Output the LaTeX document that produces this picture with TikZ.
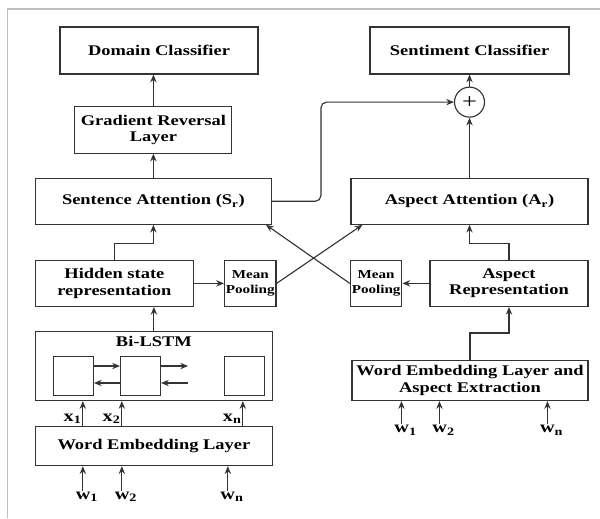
\documentclass[tikz,border=0pt]{standalone}
\usepackage{fontspec}
\setmainfont{Liberation Serif}[FakeStretch=1.25]
\usepackage{tikz}
\usetikzlibrary{positioning,arrows.meta}
\usepackage{xcolor}
\definecolor{linegray}{HTML}{333333}
\definecolor{framegray}{HTML}{BEBEBE}

\begin{document}
\begin{tikzpicture}[
  box/.style={draw=linegray, line width=0.8pt, align=center, inner sep=1pt, font=\fontsize{10.5}{11.5}\selectfont\bfseries},
  pool/.style={box, minimum width=1.2cm, minimum height=1.15cm, font=\fontsize{8.6}{10.5}\selectfont\bfseries},
  cell/.style={draw=linegray, line width=0.8pt, minimum width=1cm, minimum height=0.975cm},
  lbl/.style={inner sep=0.5pt, font=\fontsize{11.5}{12}\selectfont\bfseries},
  arr/.style={-{Stealth[length=5.5pt,width=4.5pt]}, line width=0.8pt, draw=linegray}
]
\useasboundingbox (0,0) rectangle (15,-12.95);
\draw[framegray, line width=1.2pt] (0.19,-12.95) -- (0.19,-0.225) -- (15,-0.225);

% left branch
\node[box, minimum width=4.95cm, minimum height=1.175cm] (dc) at (3.975,-1.2625) {Domain Classifier};
\node[box, minimum width=3.925cm, minimum height=1.175cm, below=0.775cm of dc, xshift=-0.14cm] (grl) {Gradient Reversal\\Layer};
\node[box, minimum width=5.9cm, minimum height=1.15cm, below=0.6cm of grl] (sa) {Sentence Attention (S\textsubscript{r})};
\node[box, minimum width=3.95cm, minimum height=1.15cm, below right=0.875cm and 0cm of sa.south west] (hsr) {Hidden state\\representation};
\node[pool, right=0.75cm of hsr] (mp1) {Mean\\Pooling};
\node[box, minimum width=5.925cm, minimum height=1.725cm, below right=0.6cm and 0cm of hsr.south west,
  label={[lbl, font=\fontsize{10.5}{11.5}\selectfont\bfseries, anchor=north, yshift=-3pt]north:Bi-LSTM}] (bilstm) {};
\node[cell, above right=0.125cm and 0.45cm of bilstm.south west] (cell1) {};
\node[cell, right=0.65cm of cell1] (cell2) {};
\node[cell, right=1.575cm of cell2] (cell3) {};
\node[box, minimum width=5.925cm, minimum height=0.975cm, below right=0.625cm and 0cm of bilstm.south west] (wel) {Word Embedding Layer};

% right branch
\node[box, minimum width=4.975cm, minimum height=1.175cm] (sc) at (11.7375,-1.2625) {Sentiment Classifier};
\node[draw=linegray, line width=0.8pt, circle, minimum size=0.75cm, inner sep=0pt, below=0.3cm of sc] (plus) {\fontsize{15}{15}\selectfont +};
\node[box, minimum width=5.925cm, minimum height=1.15cm, below=1.5cm of plus] (aa) {Aspect Attention (A\textsubscript{r})};
\node[box, minimum width=3.95cm, minimum height=1.15cm, below left=0.875cm and 0cm of aa.south east] (ar) {Aspect\\Representation};
\node[pool, minimum width=1.25cm, left=0.675cm of ar] (mp2) {Mean\\Pooling};
\node[box, minimum width=5.9cm, minimum height=1.0cm, below left=1.325cm and 0cm of ar.south east] (wea) {Word Embedding Layer and\\Aspect Extraction};

% inputs
\coordinate (w1) at ([xshift=1.2cm, yshift=-0.62cm]wel.south west);
\coordinate (w2) at ([xshift=2.175cm, yshift=-0.62cm]wel.south west);
\coordinate (wn) at ([xshift=4.825cm, yshift=-0.62cm]wel.south west);
\node[lbl, anchor=north, xshift=3pt] (lw1) at (w1) {w\textsubscript{1}};
\node[lbl, anchor=north, xshift=3pt] (lw2) at (w2) {w\textsubscript{2}};
\node[lbl, anchor=north, xshift=3pt] (lwn) at (wn) {w\textsubscript{n}};
\coordinate (v1) at ([xshift=1.25cm, yshift=-0.575cm]wea.south west);
\coordinate (v2) at ([xshift=2.2cm, yshift=-0.575cm]wea.south west);
\coordinate (vn) at ([xshift=4.9cm, yshift=-0.575cm]wea.south west);
\node[lbl, anchor=north, xshift=3pt] (lv1) at (v1) {w\textsubscript{1}};
\node[lbl, anchor=north, xshift=3pt] (lv2) at (v2) {w\textsubscript{2}};
\node[lbl, anchor=north, xshift=3pt] (lvn) at (vn) {w\textsubscript{n}};
\coordinate (x1) at ([xshift=1.2cm]wel.north west);
\coordinate (x2) at ([xshift=2.175cm]wel.north west);
\coordinate (xn) at ([xshift=5.2cm]wel.north west);
\coordinate (fw) at ([xshift=0.675cm]cell2.east);

\draw[arr] (w1) -- (w1 |- wel.south);
\draw[arr] (w2) -- (w2 |- wel.south);
\draw[arr] (wn) -- (wn |- wel.south);
\draw[arr] (v1) -- (v1 |- wea.south);
\draw[arr] (v2) -- (v2 |- wea.south);
\draw[arr] (vn) -- (vn |- wea.south);
\draw[arr] (x1) -- node[lbl, left, pos=0.3] (lx1) {x\textsubscript{1}} (x1 |- bilstm.south);
\draw[arr] (x2) -- node[lbl, left, pos=0.3] (lx2) {x\textsubscript{2}} (x2 |- bilstm.south);
\draw[arr] (xn) -- node[lbl, left, pos=0.3] (lxn) {x\textsubscript{n}} (xn |- bilstm.south);

% lstm cells
\draw[arr] ([yshift=0.25cm]cell1.east) -- ([yshift=0.25cm]cell2.west);
\draw[arr] ([yshift=-0.175cm]cell2.west) -- ([yshift=-0.175cm]cell1.east);
\draw[arr] ([yshift=0.25cm]cell2.east) -- ([yshift=0.25cm]fw);
\draw[arr] ([yshift=-0.175cm]fw) -- ([yshift=-0.175cm]cell2.east);

\draw[arr] (bilstm) -- (hsr.south -| bilstm);
\draw[arr] (hsr.north) -- ++(0,0.4) -| (sa.south);
\draw[arr] (hsr) -- (mp1);
\draw[arr] (sa.north -| grl) -- (grl.south);
\draw[arr] (grl.north) -- (grl.north |- dc.south);

\draw[arr] (wea.north) -- ++(0,0.675) -| (ar.south);
\draw[arr] (ar) -- (mp2);
\draw[arr] (ar.north) -- ++(0,0.4) -| (aa.south);
\draw[arr] (aa) -- (plus);
\draw[arr] (plus) -- (sc);

% cross links
\draw[arr] (mp1.east) -- ([xshift=0.3cm]aa.south west);
\draw[arr] (mp2.west) -- ([xshift=-0.15cm]sa.south east);
\draw[arr, rounded corners=4pt] (sa.east) -- ++(1.225,0) |- (plus.west);
\end{tikzpicture}
\end{document}
